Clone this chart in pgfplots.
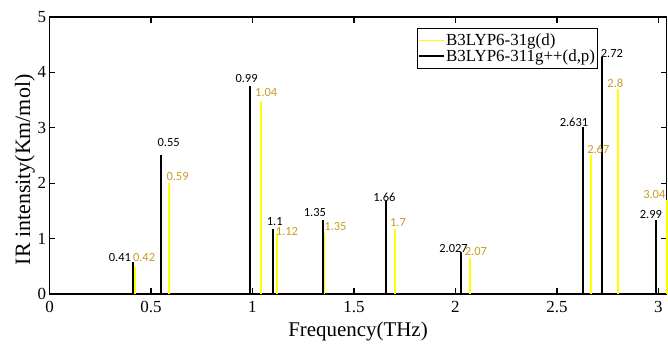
\documentclass[border=0pt]{standalone}
\usepackage{fontspec}
\setmainfont{Liberation Serif}
\newfontfamily\lblfont{Carlito}
\usepackage{pgfplots}
\pgfplotsset{compat=1.18}
\definecolor{gold}{RGB}{200,155,40}
\definecolor{ylw}{RGB}{255,255,0}
\begin{document}
\begin{tikzpicture}
\begin{axis}[
  at={(0,0)}, anchor=south west,
  scale only axis, width=617bp, height=277bp,
  xmin=0, xmax=3.04, ymin=0, ymax=5,
  xtick={0,0.5,1,1.5,2,2.5,3}, ytick={0,1,2,3,4,5},
  xticklabels={0,0.5,1,1.5,2,2.5,3},
  tick align=inside, major tick length=6bp,
  axis line style={line width=1.3bp},
  every tick/.style={black, line width=1.2bp},
  /pgf/number format/assume math mode=true,
  ticklabel style={font=\fontsize{17}{17}\selectfont},
  xticklabel style={yshift=-4bp},
  xlabel={Frequency(THz)}, ylabel={IR intensity(Km/mol)},
  xlabel style={font=\fontsize{21}{21}\selectfont, at={(axis description cs:0.5,-0.137)}, anchor=center},
  ylabel style={font=\fontsize{22}{22}\selectfont, at={(axis description cs:-0.04,0.448)}, anchor=center},
  legend style={at={(axis description cs:0.595,0.960)}, anchor=north west, draw=black, line width=1bp, fill=white,
    font=\fontsize{17}{17}\selectfont, inner xsep=1.5bp, inner ysep=4.5bp, nodes={inner sep=1bp}},
  legend cell align=left,
  legend image code/.code={\draw[#1, line width=1.5bp] (0bp,0bp) -- (25bp,0bp);},
  clip=false,
]
\addplot[ycomb, ylw, line width=2bp, mark=none] coordinates {
 (0.42,0.49) (0.59,2.01) (1.04,3.48) (1.12,1.10) (1.353,1.10)
 (1.7,1.17) (2.07,0.65) (2.67,2.51) (2.8,3.70) (3.04,1.70)};
\addlegendentry{B3LYP6-31g(d)}
\addplot[ycomb, black, line width=2bp, mark=none] coordinates {
 (0.41,0.58) (0.55,2.51) (0.99,3.75) (1.1,1.18) (1.35,1.34)
 (1.66,1.67) (2.027,0.75) (2.631,3.02) (2.72,4.28) (2.99,1.34)};
\addlegendentry{B3LYP6-311g++(d,p)}
\begin{scope}[every node/.style={font=\lblfont\fontsize{12.5}{12.5}\selectfont, inner sep=0pt, anchor=center}]
\node[text=black] at (axis cs:0.347,0.659) {0.41};
\node[text=black] at (axis cs:0.587,2.731) {0.55};
\node[text=black] at (axis cs:0.971,3.881) {0.99};
\node[text=black] at (axis cs:1.110,1.300) {1.1};
\node[text=black] at (axis cs:1.308,1.462) {1.35};
\node[text=black] at (axis cs:1.650,1.742) {1.66};
\node[text=black] at (axis cs:1.991,0.830) {2.027};
\node[text=black] at (axis cs:2.584,3.094) {2.631};
\node[text=black] at (axis cs:2.771,4.338) {2.72};
\node[text=black] at (axis cs:2.963,1.426) {2.99};
\node[text=gold] at (axis cs:0.466,0.659) {0.42};
\node[text=gold] at (axis cs:0.631,2.112) {0.59};
\node[text=gold] at (axis cs:1.068,3.628) {1.04};
\node[text=gold] at (axis cs:1.170,1.137) {1.12};
\node[text=gold] at (axis cs:1.409,1.227) {1.35};
\node[text=gold] at (axis cs:1.717,1.287) {1.7};
\node[text=gold] at (axis cs:2.101,0.758) {2.07};
\node[text=gold] at (axis cs:2.704,2.608) {2.67};
\node[text=gold] at (axis cs:2.788,3.809) {2.8};
\node[text=gold] at (axis cs:2.980,1.787) {3.04};
\end{scope}
\end{axis}
\pgfresetboundingbox
\useasboundingbox (-49.5bp,-50bp) rectangle (618.5bp,294bp);
\end{tikzpicture}
\end{document}
